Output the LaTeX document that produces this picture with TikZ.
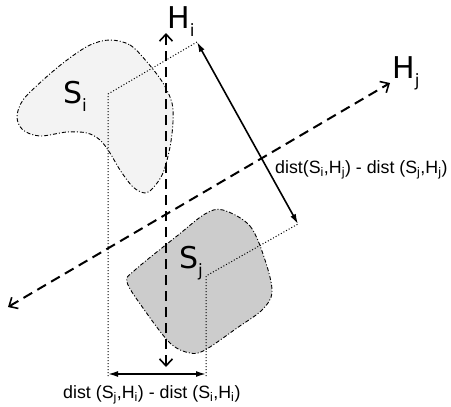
\documentclass[tikz,border=0pt]{standalone}
\usepackage{fontspec}
\setmainfont{DejaVu Sans}
\newfontfamily\arialf{Liberation Sans}
\usetikzlibrary{arrows.meta}
\newcommand\lowsub[1]{\raisebox{-0.28em}{\fontsize{17}{18}\selectfont #1}}
\tikzset{
  blob/.style={draw=black, line width=0.9pt, dash pattern=on 4pt off 2pt on 1pt off 2pt},
  axis/.style={line width=2pt, dash pattern=on 10pt off 6pt, {Straight Barb[length=7pt,width=13pt,line width=1.6pt]}-{Straight Barb[length=7pt,width=13pt,line width=1.6pt]}},
  guide/.style={line width=1pt, dotted},
  meas/.style={line width=1.6pt, {Latex[length=10pt,width=6pt]}-{Latex[length=10pt,width=6pt]}},
  biglab/.style={anchor=base west, inner sep=0pt, font=\fontsize{30}{32}\selectfont},
  distlab/.style={anchor=base west, inner sep=0pt, font=\arialf\fontsize{17.8}{20}\selectfont},
}
\begin{document}
\begin{tikzpicture}[x=1pt,y=-1pt]
\useasboundingbox (0,0) rectangle (451,407);
% blobs
\path[blob, fill={rgb,255:red,243;green,243;blue,243}] plot[smooth cycle, tension=0.55] coordinates {
 (110,40) (130,45) (147,62) (163,83) (172,103) (173,122) (170,147) (163,173) (153,188) (145,193)
 (133,187) (120,170) (110,153) (100,140) (87,133) (67,132) (40,136) (23,130) (17,117) (23,100) (43,80) (67,60) (90,45)};
\path[blob, fill={rgb,255:red,204;green,204;blue,204}] plot[smooth cycle, tension=0.55] coordinates {
 (223,210) (250,226) (265,260) (272,292) (262,310) (237,328) (205,350) (190,353) (170,343) (143,308) (127,282) (135,270) (177,236) (205,214)};
% key points
\coordinate (Pi) at (108,94);
\coordinate (Ti) at (197,42);
\coordinate (Bi) at (108,376);
\coordinate (Pj) at (206,276);
\coordinate (Tj) at (298,224);
\coordinate (Bj) at (206,376);
\coordinate (Mi) at (108,374);
\coordinate (Mj) at (206,374);
\coordinate (HiA) at (166,367);
\coordinate (HiB) at (166,33);
\coordinate (HjA) at (8,307);
\coordinate (HjB) at (390,83);
% dotted guides
\draw[guide] (Bi) -- (Pi) -- (Ti);
\draw[guide] (Bj) -- (Pj) -- (Tj);
% axes
\draw[axis] (HiA) -- (HiB);
\draw[axis] (HjA) -- (HjB);
% measures
\draw[meas] (Ti) -- (Tj);
\draw[meas] (Mi) -- (Mj);
% labels
\node[biglab] (lHi) at (167,28) {H\lowsub{i}};
\node[biglab] (lHj) at (392,78) {H\lowsub{j}};
\node[biglab] (lSi) at (63,103) {S\lowsub{i}};
\node[biglab] (lSj) at (179,268) {S\lowsub{j}};
\node[distlab] (dj) at (275,173) {dist(S\textsubscript{i},H\textsubscript{j}) - dist (S\textsubscript{j},H\textsubscript{j})};
\node[distlab] (di) at (63,398) {dist (S\textsubscript{j},H\textsubscript{i}) - dist (S\textsubscript{i},H\textsubscript{i})};
\end{tikzpicture}
\end{document}
